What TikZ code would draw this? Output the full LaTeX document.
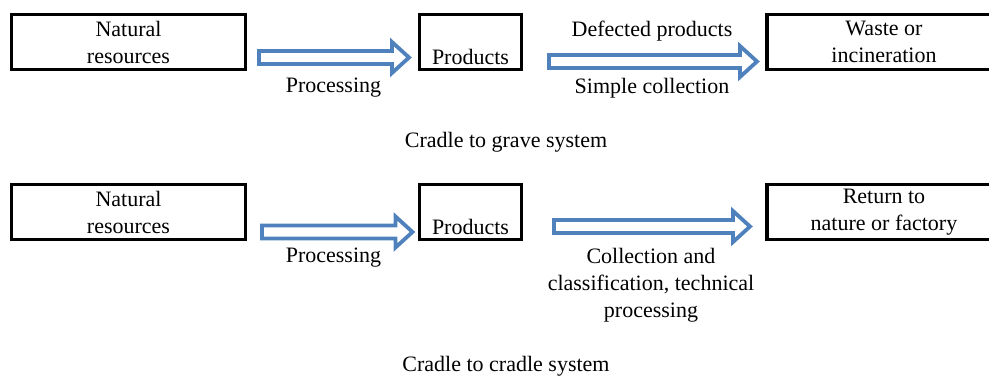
\documentclass[tikz,border=0pt]{standalone}
\usepackage{fontspec}
\setmainfont{Liberation Serif}
\usetikzlibrary{calc}
\definecolor{arrowblue}{RGB}{79,129,189}

\newcommand{\hollowarrow}[2]{%
  \draw[line width=3.8pt, draw=arrowblue, fill=white, line join=miter]
    let \p1=(#1), \p2=(#2) in
    (\x1,\y1+6.5pt) -- (\x2-17pt,\y1+6.5pt) -- (\x2-17pt,\y1+15.5pt) -- (\x2,\y1)
    -- (\x2-17pt,\y1-15.5pt) -- (\x2-17pt,\y1-6.5pt) -- (\x1,\y1-6.5pt) -- cycle;}

\begin{document}
\begin{tikzpicture}[x=1pt, y=-1pt, font=\fontsize{22pt}{27pt}\selectfont,
  box/.style={draw=black, line width=3.5pt, minimum width=234pt, minimum height=55pt, inner sep=0pt, align=center},
  lbl/.style={inner sep=0pt, align=center}]
	
	\useasboundingbox (0,0) rectangle (989,379);
	
	\node[box] (nr1) at (128.5, 42)     {Natural\\resources};
	\node[box, minimum width=102pt, text height=46pt, text depth=0pt] (pr1) at (470.5, 42)     {Products};
	\node[box] (wi) at (884, 42)     {Waste or\\incineration};
	
	\node[box] (nr2) at (128.5, 212)     {Natural\\resources};
	\node[box, minimum width=102pt, text height=46pt, text depth=0pt] (pr2) at (470.5, 212)     {Products};
	\node[box] (rn) at (884, 212)     {Return to\\nature or factory};
	
	\coordinate (t1s) at (259, 57.5);
	\coordinate (t1e) at (409, 57.5);
	\coordinate (t2s) at (549, 61.5);
	\coordinate (t2e) at (757, 61.5);
	\coordinate (b1s) at (262, 232);
	\coordinate (b1e) at (412.5, 232);
	\coordinate (b2s) at (554, 226.5);
	\coordinate (b2e) at (750, 226.5);
	
	\hollowarrow{t1s}{t1e}
	\hollowarrow{t2s}{t2e}
	\hollowarrow{b1s}{b1e}
	\hollowarrow{b2s}{b2e}
	
	\node[lbl, anchor=base] (p1) at (333.5, 93)     {Processing};
	\node[lbl, anchor=base] (dp) at (652, 37)     {Defected products};
	\node[lbl, anchor=base] (sc) at (652, 94)     {Simple collection};
	\node[lbl, anchor=base] (cg) at (506, 148)     {Cradle to grave system};
	
	\node[lbl, anchor=base] (p2) at (333.5, 263)     {Processing};
	\node[lbl, anchor=north] (cc) at (651, 248)     {Collection and\\classification, technical\\processing};
	\node[lbl, anchor=base] (ccs) at (506, 372)     {Cradle to cradle system};
	
\end{tikzpicture}
\end{document}
